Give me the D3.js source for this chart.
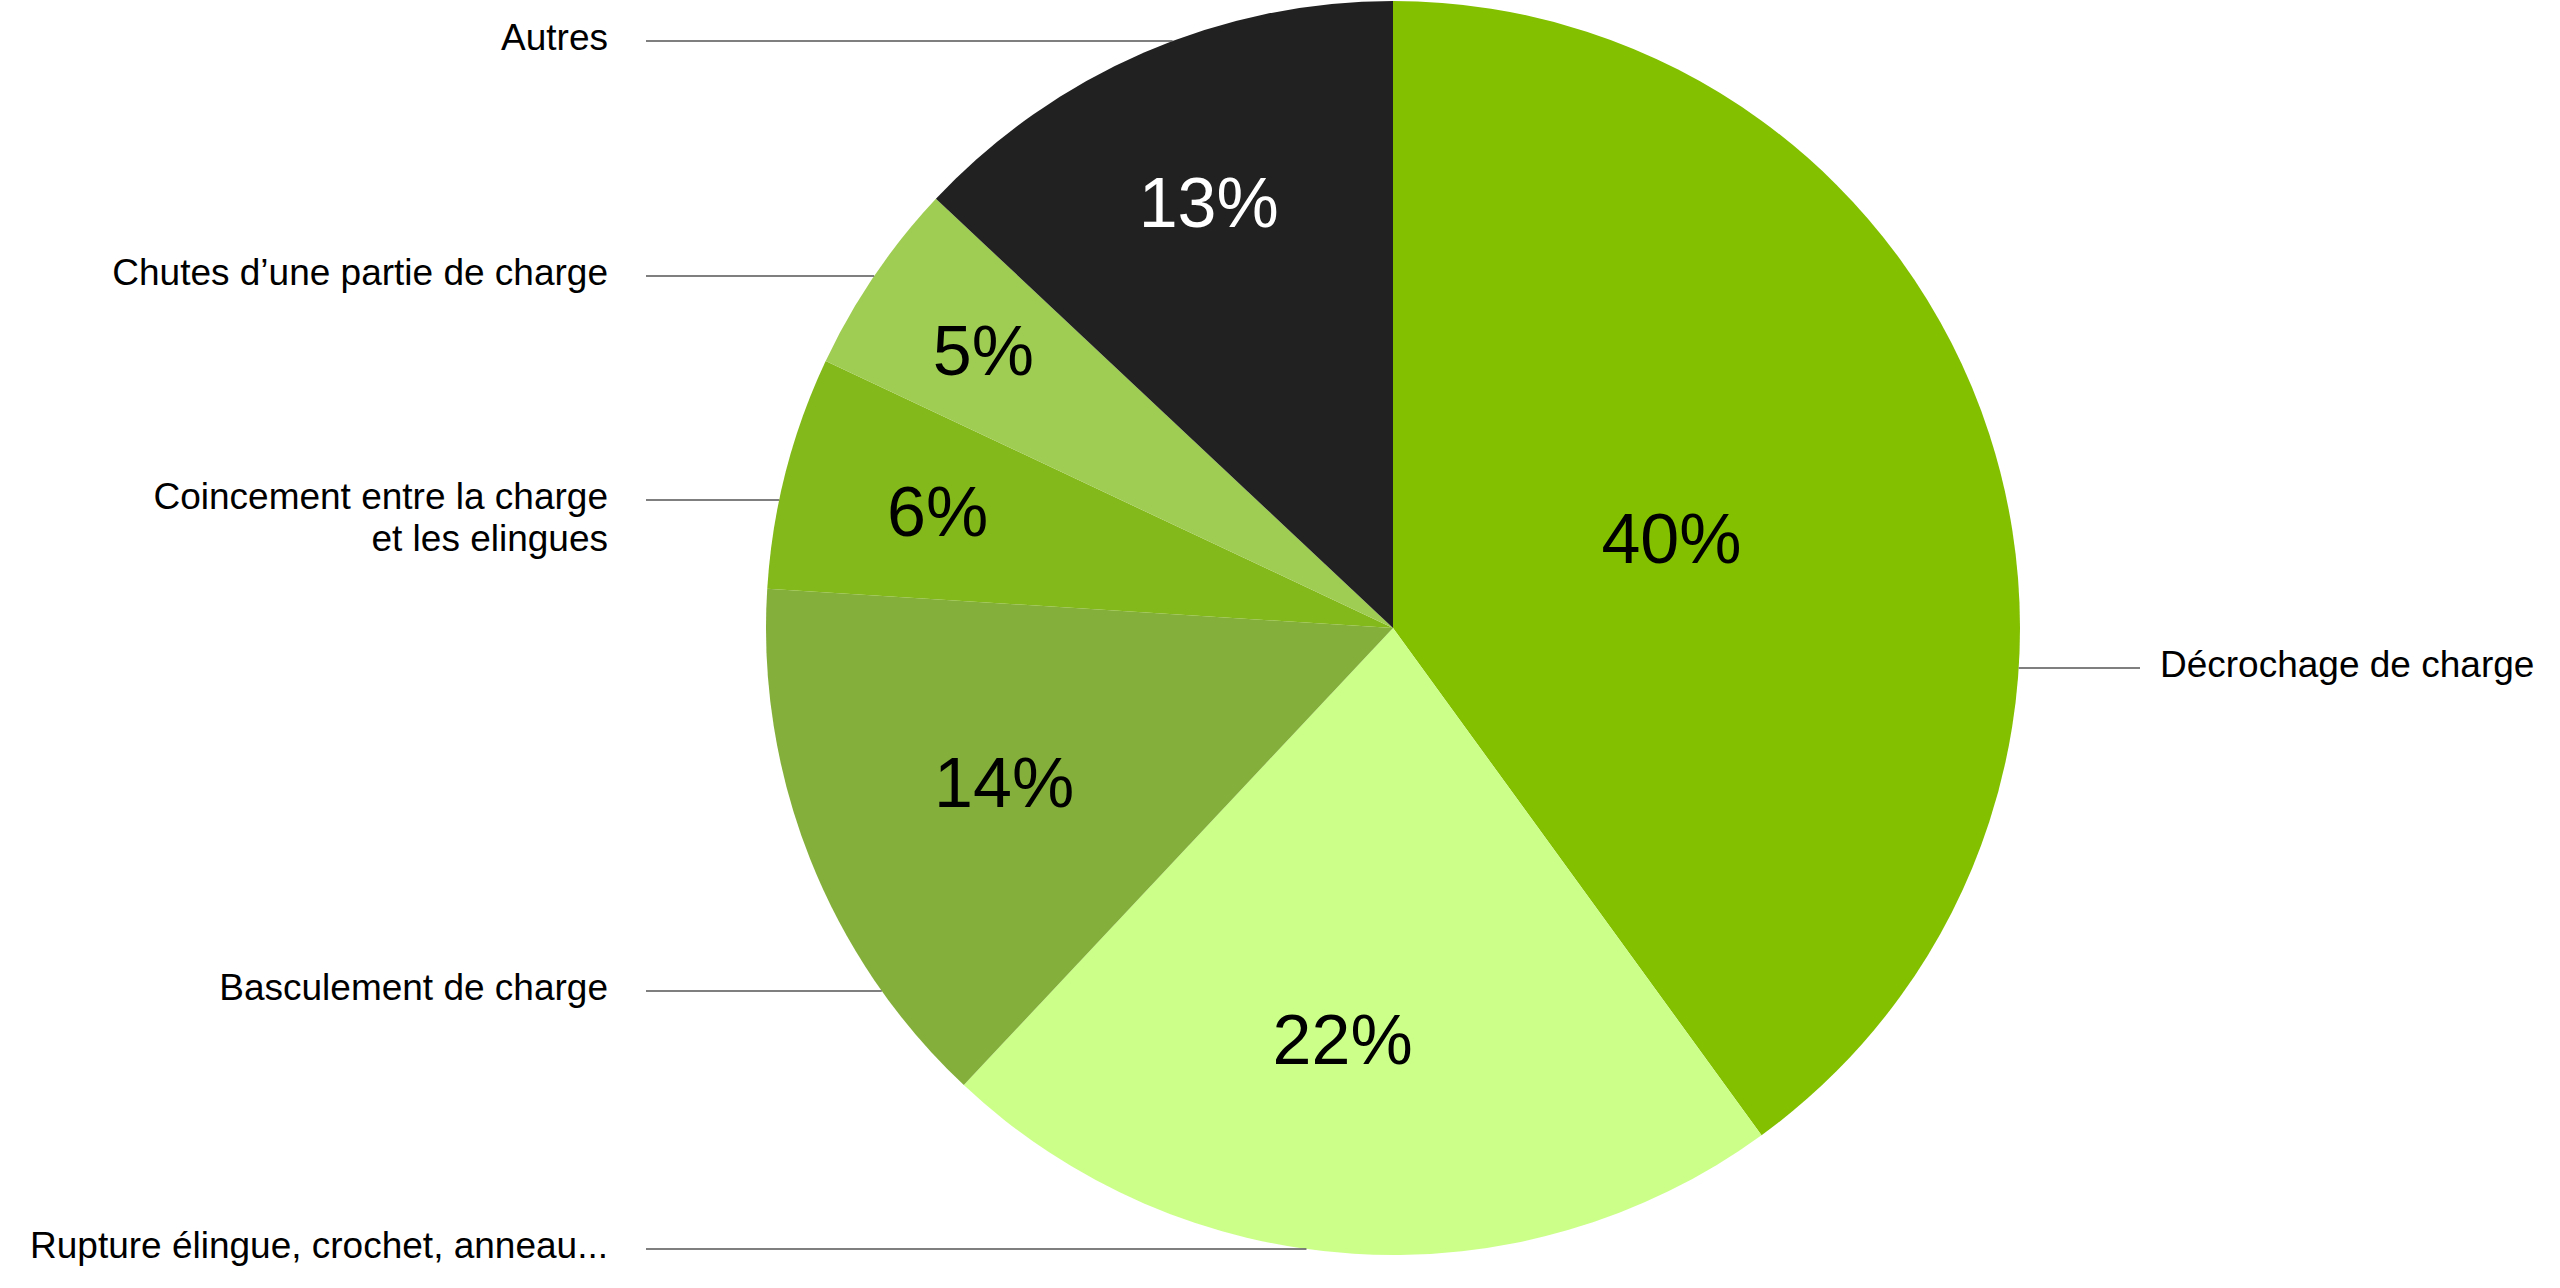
<!DOCTYPE html>
<html>
<head>
<meta charset="utf-8">
<script src="https://cdn.jsdelivr.net/npm/d3@7"></script>
<style>
  body { margin: 0; background: #fff; }
  svg { display: block; font-family: "Liberation Sans", Arial, sans-serif; }
  .pct { font-size: 70px; text-anchor: middle; }
  .cat { font-size: 37px; fill: #000; }
  .leader { stroke: #555; stroke-width: 1.5; }
</style>
</head>
<body>
<div id="chart"></div>
<script>
// data, clockwise from 12 o'clock
const categories = [
  "Décrochage de charge",
  "Rupture élingue, crochet, anneau...",
  "Basculement de charge",
  "Coincement entre la charge\net les elingues",
  "Chutes d’une partie de charge",
  "Autres"
];
const values = [40, 22, 14, 6, 5, 13];
const colors = ["#82c000", "#ccff8a", "#84af3b", "#83b91a", "#9fcc53", "#212121"];
const pctColors = ["#000", "#000", "#000", "#000", "#000", "#fff"];

// layout
const width = 2560, height = 1288;
const cx = 1393, cy = 628, radius = 627;
const pctRadius = [0.467, 0.66, 0.667, 0.75, 0.79, 0.74]; // fraction of radius for % labels
const pctShift = [0, 3.4, 0, 0, 0, 0];                     // degrees nudged off the mid angle
const leaderY = [668, 1249, 991, 500, 276, 41];           // y of each category's leader line
const leftTextX = 608, leftLineX = 646, rightLineX = 2140, rightTextX = 2160;

const svg = d3.select("#chart").append("svg")
    .attr("width", width)
    .attr("height", height);

const g = svg.append("g")
    .attr("transform", "translate(" + cx + "," + cy + ")");

const pie = d3.pie().sort(null).value(d => d);
const arcs = pie(values);
const arc = d3.arc().innerRadius(0).outerRadius(radius);

g.selectAll(".slice")
  .data(arcs)
  .enter().append("path")
    .attr("class", "slice")
    .attr("d", arc)
    .attr("fill", (d, i) => colors[i]);

// percentage labels
g.selectAll(".pct")
  .data(arcs)
  .enter().append("text")
    .attr("class", "pct")
    .attr("transform", (d, i) => {
      const r = radius * pctRadius[i];
      const a = (d.startAngle + d.endAngle) / 2 + pctShift[i] * Math.PI / 180;
      return "translate(" + (r * Math.sin(a)) + "," + (-r * Math.cos(a)) + ")";
    })
    .attr("dy", "0.36em")
    .attr("fill", (d, i) => pctColors[i])
    .text(d => d.data + "%");

// category labels with horizontal leader lines
arcs.forEach((d, i) => {
  const y = leaderY[i];
  const dy = y - cy;
  const half = Math.sqrt(Math.max(0, radius * radius - dy * dy));
  const mid = (d.startAngle + d.endAngle) / 2;
  const right = Math.sin(mid) > 0;

  svg.append("line")
    .attr("class", "leader")
    .attr("x1", right ? cx + half : leftLineX)
    .attr("x2", right ? rightLineX : cx - half)
    .attr("y1", y)
    .attr("y2", y);

  const lines = categories[i].split("\n");
  const t = svg.append("text")
    .attr("class", "cat")
    .attr("text-anchor", right ? "start" : "end")
    .attr("x", right ? rightTextX : leftTextX)
    .attr("y", y + 9);
  lines.forEach((s, k) => {
    t.append("tspan")
      .attr("x", right ? rightTextX : leftTextX)
      .attr("dy", k === 0 ? 0 : 42)
      .text(s);
  });
});
</script>
</body>
</html>
